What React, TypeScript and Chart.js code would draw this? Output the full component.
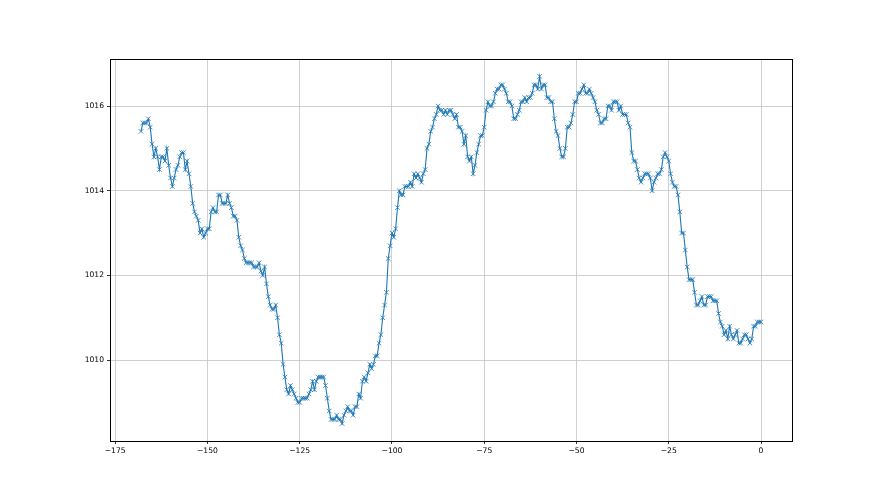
import React, { useEffect, useRef } from 'react';
import { Chart, registerables } from 'chart.js';

Chart.register(...registerables);

// Time axis: hours relative to now, one reading every half hour
const HOUR_START = -168;
const HOUR_STEP = 0.5;

// Pressure readings (hPa), oldest first
const PRESSURE = [
  1015.4, 1015.6, 1015.6, 1015.6, 1015.7, 1015.5, 1015.1, 1014.8, 1015.0, 1014.8,
  1014.5, 1014.8, 1014.8, 1014.7, 1015.0, 1014.6, 1014.3, 1014.1, 1014.3, 1014.5,
  1014.6, 1014.8, 1014.9, 1014.9, 1014.5, 1014.7, 1014.4, 1014.1, 1013.7, 1013.5,
  1013.4, 1013.3, 1013.0, 1013.1, 1012.9, 1013.0, 1013.1, 1013.1, 1013.5, 1013.6,
  1013.5, 1013.5, 1013.9, 1013.9, 1013.7, 1013.7, 1013.7, 1013.9, 1013.7, 1013.6,
  1013.4, 1013.4, 1013.3, 1012.9, 1012.7, 1012.6, 1012.4, 1012.3, 1012.3, 1012.3,
  1012.3, 1012.2, 1012.2, 1012.2, 1012.3, 1012.1, 1012.0, 1012.2, 1011.8, 1011.5,
  1011.3, 1011.2, 1011.2, 1011.3, 1011.0, 1010.6, 1010.4, 1009.9, 1009.6, 1009.3,
  1009.2, 1009.4, 1009.3, 1009.2, 1009.1, 1009.0, 1009.0, 1009.1, 1009.1, 1009.1,
  1009.1, 1009.2, 1009.3, 1009.5, 1009.3, 1009.5, 1009.6, 1009.6, 1009.6, 1009.6,
  1009.4, 1009.1, 1008.8, 1008.6, 1008.6, 1008.6, 1008.7, 1008.6, 1008.6, 1008.5,
  1008.7, 1008.8, 1008.9, 1008.8, 1008.8, 1008.7, 1008.9, 1008.9, 1009.2, 1009.1,
  1009.5, 1009.6, 1009.5, 1009.7, 1009.9, 1009.8, 1009.9, 1010.1, 1010.1, 1010.4,
  1010.6, 1011.0, 1011.3, 1011.6, 1012.4, 1012.7, 1013.0, 1012.9, 1013.1, 1013.6,
  1014.0, 1013.9, 1013.9, 1014.1, 1014.1, 1014.1, 1014.2, 1014.1, 1014.4, 1014.3,
  1014.4, 1014.3, 1014.2, 1014.4, 1014.5, 1015.0, 1015.1, 1015.4, 1015.5, 1015.7,
  1015.8, 1016.0, 1015.9, 1015.9, 1015.8, 1015.9, 1015.8, 1015.9, 1015.9, 1015.8,
  1015.7, 1015.8, 1015.5, 1015.5, 1015.4, 1015.1, 1015.3, 1014.8, 1014.7, 1014.8,
  1014.4, 1014.6, 1014.9, 1015.1, 1015.3, 1015.3, 1015.5, 1015.9, 1016.1, 1016.0,
  1016.0, 1016.1, 1016.3, 1016.4, 1016.4, 1016.5, 1016.5, 1016.4, 1016.3, 1016.1,
  1016.1, 1016.0, 1015.7, 1015.7, 1015.8, 1015.9, 1016.1, 1016.1, 1016.2, 1016.1,
  1016.2, 1016.2, 1016.3, 1016.5, 1016.5, 1016.4, 1016.7, 1016.4, 1016.5, 1016.5,
  1016.2, 1016.2, 1016.1, 1016.1, 1015.7, 1015.4, 1015.3, 1015.0, 1014.8, 1014.8,
  1015.0, 1015.5, 1015.5, 1015.6, 1015.8, 1016.1, 1016.1, 1016.3, 1016.3, 1016.4,
  1016.5, 1016.3, 1016.3, 1016.4, 1016.3, 1016.2, 1016.1, 1015.9, 1015.8, 1015.6,
  1015.6, 1015.7, 1015.7, 1016.0, 1016.0, 1015.9, 1016.1, 1016.1, 1016.1, 1015.9,
  1016.0, 1015.8, 1015.8, 1015.8, 1015.6, 1015.5, 1014.9, 1014.7, 1014.7, 1014.5,
  1014.3, 1014.2, 1014.3, 1014.4, 1014.4, 1014.4, 1014.3, 1014.0, 1014.2, 1014.3,
  1014.4, 1014.4, 1014.5, 1014.8, 1014.9, 1014.8, 1014.7, 1014.4, 1014.2, 1014.1,
  1014.1, 1013.9, 1013.5, 1013.0, 1013.0, 1012.6, 1012.2, 1011.9, 1011.9, 1011.9,
  1011.6, 1011.3, 1011.3, 1011.4, 1011.5, 1011.3, 1011.3, 1011.5, 1011.5, 1011.5,
  1011.4, 1011.4, 1011.4, 1011.1, 1010.9, 1010.8, 1010.6, 1010.7, 1010.5, 1010.8,
  1010.6, 1010.5, 1010.6, 1010.7, 1010.4, 1010.4, 1010.5, 1010.6, 1010.6, 1010.5,
  1010.4, 1010.5, 1010.8, 1010.8, 1010.9, 1010.9, 1010.9,
];

const X_TICKS = [-175, -150, -125, -100, -75, -50, -25, 0];
const Y_TICKS = [1010, 1012, 1014, 1016];

const LINE_COLOR = '#1f77b4';
const FONT = { family: '"DejaVu Sans", sans-serif', size: 7.6 };

const framePlugin = {
  id: 'frame',
  afterDraw(chart: any) {
    const { ctx, chartArea: a } = chart;
    ctx.save();
    ctx.strokeStyle = '#000';
    ctx.lineWidth = 1;
    ctx.strokeRect(Math.round(a.left) + 0.5, Math.round(a.top) + 0.5,
      Math.round(a.right - a.left), Math.round(a.bottom - a.top));
    ctx.restore();
  },
};

const fmt = (v: number) => (v < 0 ? '\u2212' + Math.abs(v) : String(v));

export default function App() {
  const ref = useRef<HTMLCanvasElement>(null);

  useEffect(() => {
    if (!ref.current) return;
    const hours = PRESSURE.map((_, i) => HOUR_START + i * HOUR_STEP);
    const points = PRESSURE.map((p, i) => ({ x: hours[i], y: p }));

    const xMinD = Math.min(...hours), xMaxD = Math.max(...hours);
    const yMinD = Math.min(...PRESSURE), yMaxD = Math.max(...PRESSURE);
    const xPad = (xMaxD - xMinD) * 0.05, yPad = (yMaxD - yMinD) * 0.05;

    const chart = new Chart(ref.current, {
      type: 'line',
      data: {
        datasets: [
          {
            data: points,
            borderColor: LINE_COLOR,
            backgroundColor: LINE_COLOR,
            borderWidth: 1.1,
            pointStyle: 'crossRot',
            pointRadius: 3.2,
            pointBorderWidth: 0.8,
            pointBorderColor: LINE_COLOR,
            tension: 0,
            fill: false,
          },
        ],
      },
      options: {
        animation: false,
        responsive: false,
        devicePixelRatio: 1,
        layout: { padding: { left: 0, top: 59, right: 88, bottom: 0 } },
        plugins: { legend: { display: false }, tooltip: { enabled: false } },
        scales: {
          x: {
            type: 'linear',
            min: xMinD - xPad,
            max: xMaxD + xPad,
            afterBuildTicks: (s: any) => { s.ticks = X_TICKS.map((v) => ({ value: v })); },
            afterFit: (s: any) => { s.height = 54; },
            grid: { color: '#c4c4c4', lineWidth: 0.8, tickLength: 3, tickColor: '#000', drawTicks: true },
            border: { display: false },
            ticks: { font: FONT, color: '#000', padding: 2, maxRotation: 0, callback: (v: any) => fmt(Number(v)) },
          },
          y: {
            type: 'linear',
            min: yMinD - yPad,
            max: yMaxD + yPad,
            afterBuildTicks: (s: any) => { s.ticks = Y_TICKS.map((v) => ({ value: v })); },
            afterFit: (s: any) => { s.width = 110; },
            grid: { color: '#c4c4c4', lineWidth: 0.8, tickLength: 3, tickColor: '#000', drawTicks: true },
            border: { display: false },
            ticks: { font: FONT, color: '#000', padding: 3, callback: (v: any) => String(v) },
          },
        },
      },
      plugins: [framePlugin],
    });
    return () => chart.destroy();
  }, []);

  return (
    <div style={{ position: 'fixed', left: 0, top: 0, width: 880, height: 495, background: '#fff' }}>
      <canvas ref={ref} width={880} height={495} style={{ width: 880, height: 495, display: 'block' }} />
    </div>
  );
}
